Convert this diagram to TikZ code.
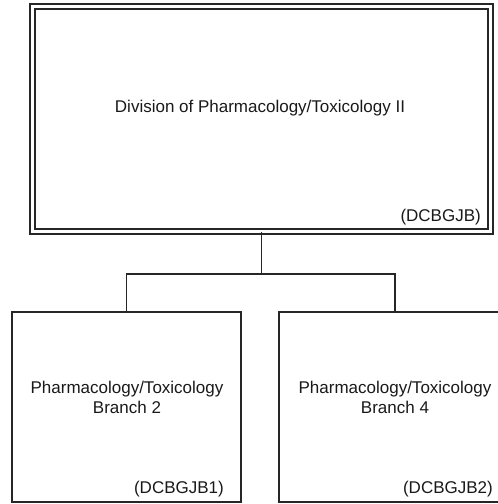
\documentclass[tikz,border=0pt]{standalone}
\usepackage{fontspec}
\setmainfont{Liberation Sans}
\begin{document}
\begin{tikzpicture}[x=1pt,y=-1pt,
  boxline/.style={draw=black!85, line width=1.8pt},
  topbox/.style={draw=black!85, line width=1.7pt, double=white, double distance=3pt, rectangle, inner sep=0pt, outer sep=0pt},
  subbox/.style={boxline, rectangle, inner sep=0pt, outer sep=0pt},
  lbl/.style={font=\fontsize{17}{20}\selectfont, text=black!90, inner sep=0pt, align=center},
  conn/.style={draw=black!85, line width=1.8pt}
]
\useasboundingbox (0,0) rectangle (498,504);
\clip (0,0) rectangle (498,504);
\node[topbox, minimum width=458pt, minimum height=225pt] (top) at (261.5,119) {};
\node[subbox, minimum width=229pt, minimum height=190pt] (b1) at (126.5,407) {};
\node[subbox, minimum width=232pt, minimum height=190pt] (b2) at (395,407) {};
\node[lbl] (toptext) at (260,108) {Division of Pharmacology/Toxicology II};
\node[lbl, anchor=east] (topcode) at (481,217) {(DCBGJB)};
\node[lbl] (b1text) at (127,397) {Pharmacology/Toxicology\\Branch 2};
\node[lbl, anchor=east] (b1code) at (224,489) {(DCBGJB1)};
\node[lbl] (b2text) at (395,397) {Pharmacology/Toxicology\\Branch 4};
\node[lbl, anchor=east] (b2code) at (493,489) {(DCBGJB2)};
\coordinate (mid) at (261.5,274);
\draw[conn] (top.south) -- (mid);
\draw[conn] (mid) -| (b1.north);
\draw[conn] (mid) -| (b2.north);
\end{tikzpicture}
\end{document}
